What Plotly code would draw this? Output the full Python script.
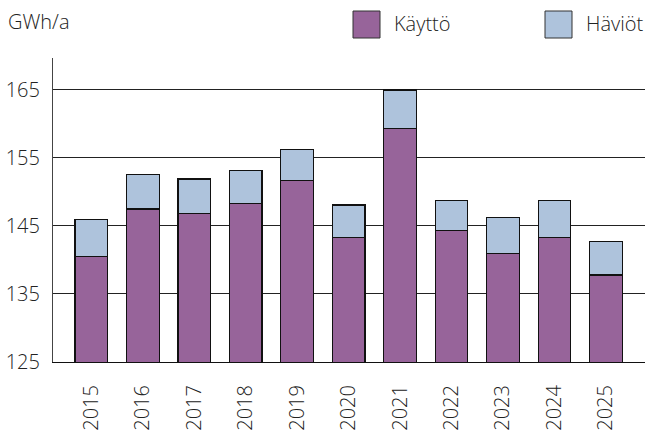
import plotly.graph_objects as go

years = ['2015', '2016', '2017', '2018', '2019', '2020', '2021', '2022', '2023', '2024', '2025']
kaytto = [140.5, 147.5, 146.8, 148.3, 151.7, 143.3, 159.3, 144.3, 141.0, 143.3, 137.8]
haviot = [5.5, 5.1, 5.1, 4.8, 4.5, 4.8, 5.7, 4.5, 5.2, 5.5, 4.9]

purple = '#97649a'
blue = '#aec3dc'
font = dict(family='Open Sans', size=20, color='#222', weight=300)

fig = go.Figure()
fig.add_bar(x=years, y=kaytto, name='Käyttö', marker=dict(color=purple, line=dict(color='#111', width=1.2)), width=0.635)
fig.add_bar(x=years, y=haviot, name='Häviöt', marker=dict(color=blue, line=dict(color='#111', width=1.2)), width=0.635)

fig.update_layout(
	barmode='stack',
	width=648, height=430,
	margin=dict(l=53, r=3, t=58, b=68, autoexpand=False),
	plot_bgcolor='white', paper_bgcolor='white',
	font=font,
	showlegend=False,
	xaxis=dict(
		type='category', range=[-0.745, 10.76], automargin=False,
		tickangle=-90, ticks='outside', ticklen=0, ticklabelstandoff=14,
		showline=True, linecolor='#111', linewidth=1.2, showgrid=False,
	),
	yaxis=dict(
		range=[125, 169.7], tickvals=[125, 135, 145, 155, 165], automargin=False,
		showline=True, linecolor='#444', linewidth=1.2,
		gridcolor='#222', gridwidth=1, ticks='outside', ticklen=0, ticklabelstandoff=8,
		zeroline=False,
	),
)

# unit label and hand-drawn legend, placed in paper coords of the 592x304 plot area
fig.add_annotation(text='GWh/a', xref='paper', yref='paper', x=-47/592, y=1 + 36/304,
	xanchor='left', yanchor='middle', showarrow=False)
for x0, col, name in [(353, purple, 'Käyttö'), (545, blue, 'Häviöt')]:
	fig.add_shape(type='rect', xref='paper', yref='paper',
		x0=(x0 - 53) / 592, x1=(x0 + 27 - 53) / 592,
		y0=(362 - 38) / 304, y1=(362 - 11) / 304,
		fillcolor=col, line=dict(color='#333', width=1))
	fig.add_annotation(text=name, xref='paper', yref='paper', x=(x0 + 39 - 53) / 592, y=(362 - 24) / 304,
		xanchor='left', yanchor='middle', showarrow=False)

fig.write_html('out.html', config={'displayModeBar': False}, post_script="document.body.style.margin='0';")
